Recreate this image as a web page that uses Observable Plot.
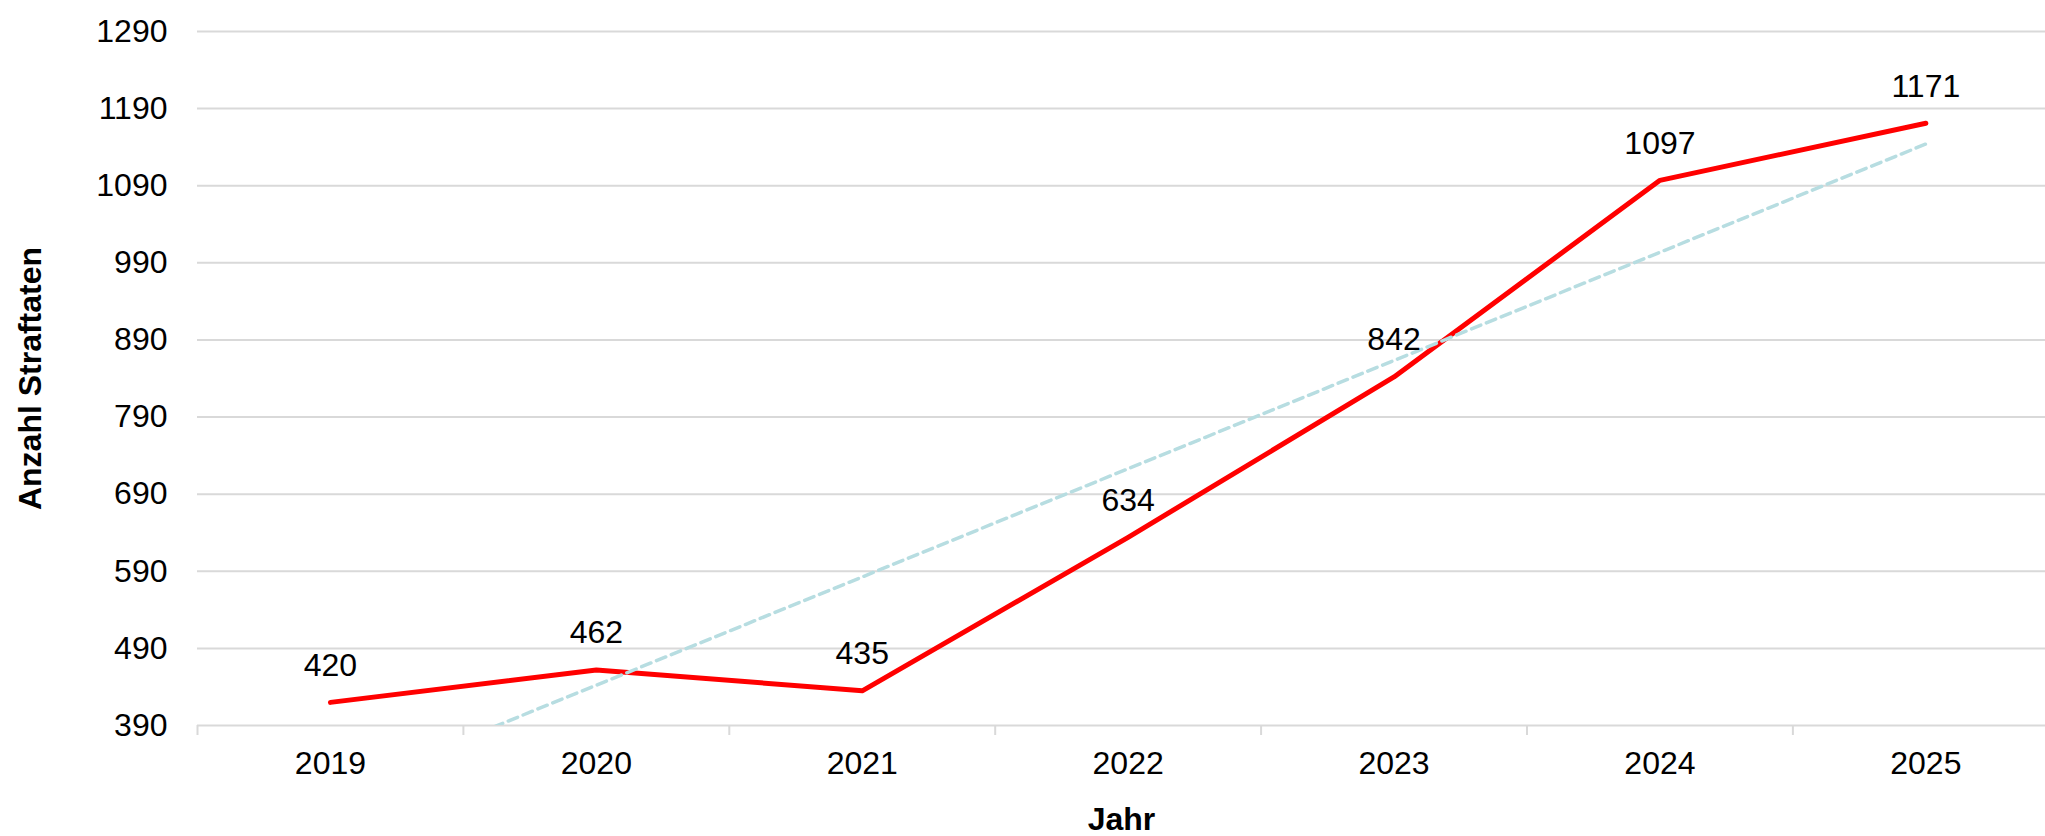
<!DOCTYPE html>
<html>
<head>
<meta charset="utf-8">
<script src="https://cdn.jsdelivr.net/npm/d3@7"></script>
<script src="https://cdn.jsdelivr.net/npm/@observablehq/plot@0.6"></script>
<style>
  html, body { margin: 0; padding: 0; background: #fff; }
  svg [aria-label="x-axis label"], svg [aria-label="y-axis label"] { font-weight: bold; }
</style>
</head>
<body>
<div id="chart"></div>
<script>
const years = [2019, 2020, 2021, 2022, 2023, 2024, 2025];
const counts = [420, 462, 435, 634, 842, 1097, 1171];
const yTicks = [390, 490, 590, 690, 790, 890, 990, 1090, 1190, 1290];
const bandEdges = [2018.5, 2019.5, 2020.5, 2021.5, 2022.5, 2023.5, 2024.5];

const data = years.map((y, i) => ({year: y, value: counts[i]}));

const chart = Plot.plot({
  width: 2045,
  height: 836,
  marginTop: 31,
  marginBottom: 111,
  marginLeft: 197,
  marginRight: 0,
  style: {fontFamily: "'Liberation Sans', Arial, sans-serif", fontSize: "32px", color: "#000", background: "#fff"},
  x: {type: "linear", domain: [2018.5, 2025.45]},
  y: {domain: [390, 1290]},
  marks: [
    Plot.gridY(yTicks, {stroke: "#d9d9d9", strokeOpacity: 1, strokeWidth: 2}),
    Plot.axisX(bandEdges, {tickSize: 10, tickFormat: () => "", stroke: "#d9d9d9", strokeWidth: 2, label: null}),
    Plot.axisX(years, {tickSize: 0, tickPadding: 26, tickFormat: "d", label: "Jahr", labelAnchor: "center", labelOffset: 104, labelArrow: "none"}),
    Plot.axisY(yTicks, {tickSize: 0, tickPadding: 30, tickFormat: "d", label: "Anzahl Straftaten", labelAnchor: "center", labelOffset: 179, labelArrow: "none"}),
    Plot.line(data, {x: "year", y: "value", stroke: "#ff0000", strokeWidth: 5, strokeLinecap: "round", strokeLinejoin: "round"}),
    Plot.linearRegressionY(data, {x: "year", y: "value", ci: 0, stroke: "#b7dde1", strokeWidth: 3.5, strokeDasharray: "10,6", clip: true}),
    Plot.text(data, {x: "year", y: "value", text: d => String(d.value), dy: -37, fill: "#000"})
  ]
});
document.getElementById("chart").appendChild(chart);
</script>
</body>
</html>
